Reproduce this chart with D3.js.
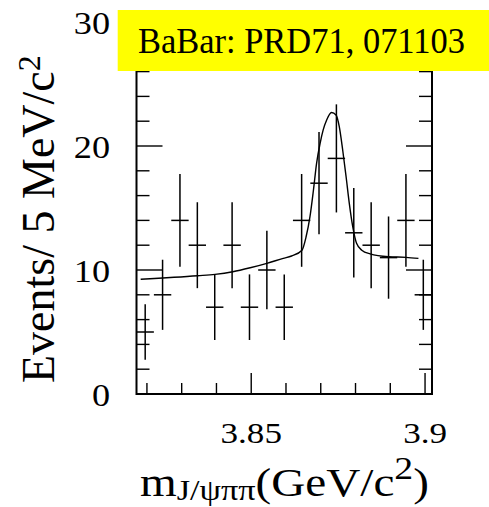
<!DOCTYPE html>
<html>
<head>
<meta charset="utf-8">
<script src="https://cdn.jsdelivr.net/npm/d3@7"></script>
<style>
  body { margin: 0; background: #fff; }
  svg { display: block; }
  text { font-family: "Liberation Serif", "Times New Roman", serif; fill: #000; }
</style>
</head>
<body>
<script>
// bin centres (GeV/c^2) and counts per 5 MeV/c^2
const binCenters = [3.8195, 3.8245, 3.8295, 3.8345, 3.8395, 3.8445, 3.8495, 3.8545, 3.8595,
                    3.8645, 3.8695, 3.8745, 3.8795, 3.8845, 3.8895, 3.8945, 3.8995];
const counts = [5, 8, 14, 12, 7, 12, 7, 10, 7, 14, 17, 19, 13, 12, 11, 14, 8];

// fit curve
const fitMass = [3.8182, 3.8346, 3.8396, 3.8447, 3.8497, 3.8545, 3.8592, 3.8616, 3.8646, 3.8658,
                 3.8669, 3.8679, 3.8688, 3.8698, 3.8707, 3.8717, 3.8731, 3.8744, 3.8753, 3.8763,
                 3.8773, 3.8782, 3.8792, 3.8803, 3.8818, 3.8842, 3.8895, 3.8945, 3.8981];
const fitValue = [9.25, 9.54, 9.65, 9.86, 10.18, 10.54, 10.94, 11.13, 11.6, 12.7,
                  14.3, 16.45, 18.6, 20.2, 21.3, 22.1, 22.7, 22.5, 21.6, 19.7,
                  17.5, 15.4, 13.5, 12.15, 11.6, 11.3, 11.07, 11.02, 10.94];

const yTicks = [0, 2, 4, 6, 8, 10, 12, 14, 16, 18, 20, 22, 24, 26, 28, 30];
const yLabels = [0, 10, 20, 30];
const xTicks = [3.82, 3.83, 3.84, 3.85, 3.86, 3.87, 3.88, 3.89, 3.90];
const xLabels = [3.85, 3.9];
const binWidth = 0.005;

const W = 489, H = 507;
const svg = d3.select("body").append("svg").attr("width", W).attr("height", H);

const x = d3.scaleLinear().domain([3.817, 3.902]).range([136.5, 432]);
const y = d3.scaleLinear().domain([0, 30]).range([394, 22]);

// frame
svg.append("rect")
    .attr("x", x.range()[0]).attr("y", y(30))
    .attr("width", x.range()[1] - x.range()[0]).attr("height", y(0) - y(30))
    .attr("fill", "none").attr("stroke", "#000").attr("stroke-width", 2);

// y ticks, both sides
const isMajorY = v => v % 10 === 0;
yTicks.forEach(v => {
    const len = isMajorY(v) ? 26 : 13;
    svg.append("line").attr("x1", x.range()[0]).attr("x2", x.range()[0] + len)
        .attr("y1", y(v)).attr("y2", y(v)).attr("stroke", "#000").attr("stroke-width", 1.4);
    svg.append("line").attr("x1", x.range()[1]).attr("x2", x.range()[1] - len)
        .attr("y1", y(v)).attr("y2", y(v)).attr("stroke", "#000").attr("stroke-width", 1.4);
});

// x ticks, bottom and top
xTicks.forEach(v => {
    const major = xLabels.some(l => Math.abs(l - v) < 1e-6);
    const len = major ? 21 : 11;
    svg.append("line").attr("x1", x(v)).attr("x2", x(v))
        .attr("y1", y(0)).attr("y2", y(0) - len).attr("stroke", "#000").attr("stroke-width", 1.4);
    svg.append("line").attr("x1", x(v)).attr("x2", x(v))
        .attr("y1", y(30)).attr("y2", y(30) + len).attr("stroke", "#000").attr("stroke-width", 1.4);
});

// tick labels
yLabels.forEach(v => {
    svg.append("text")
        .attr("transform", `translate(110,${y(v) + 12}) scale(1.17,1)`)
        .attr("text-anchor", "end")
        .attr("font-size", 31)
        .text(v);
});
xLabels.forEach(v => {
    svg.append("text")
        .attr("transform", `translate(${x(v)},443) scale(1.17,1)`)
        .attr("text-anchor", "middle")
        .attr("font-size", 30)
        .text(v);
});

// fit curve
const line = d3.line()
    .x((d, i) => x(fitMass[i]))
    .y(d => y(d))
    .curve(d3.curveMonotoneX);
svg.append("path")
    .attr("d", line(fitValue))
    .attr("fill", "none").attr("stroke", "#000").attr("stroke-width", 1.4);

// data points with sqrt(N) errors
const pts = svg.append("g").attr("stroke", "#000").attr("stroke-width", 1.5);
binCenters.forEach((m, i) => {
    const n = counts[i], e = Math.sqrt(n);
    pts.append("line").attr("x1", x(m)).attr("x2", x(m))
        .attr("y1", y(n - e)).attr("y2", y(n + e));
    pts.append("line").attr("x1", x(m - binWidth / 2)).attr("x2", x(m + binWidth / 2))
        .attr("y1", y(n)).attr("y2", y(n));
});

// axis titles
const yTitle = svg.append("text")
    .attr("transform", "translate(54,383) rotate(-90)")
    .attr("font-size", 46);
yTitle.append("tspan").text("Events/ 5 MeV/c");
yTitle.append("tspan").attr("dy", -14).attr("font-size", 32).text("2");

const xTitle = svg.append("text")
    .attr("transform", "translate(140,496) scale(1.18,1)")
    .attr("font-size", 40);
xTitle.append("tspan").text("m");
xTitle.append("tspan").attr("dy", 4).attr("font-size", 29).text("J/ψππ");
xTitle.append("tspan").attr("dy", -4).text("(GeV/c");
xTitle.append("tspan").attr("dy", -17).attr("font-size", 32).text("2");
xTitle.append("tspan").attr("dy", 17).text(")");

// label box
svg.append("rect")
    .attr("x", 117.7).attr("y", 10).attr("width", W - 117.7).attr("height", 61)
    .attr("fill", "#ffff00");
svg.append("text")
    .attr("x", 138).attr("y", 52.7)
    .attr("font-size", 36)
    .attr("textLength", 327).attr("lengthAdjust", "spacingAndGlyphs")
    .text("BaBar: PRD71, 071103");
</script>
</body>
</html>
